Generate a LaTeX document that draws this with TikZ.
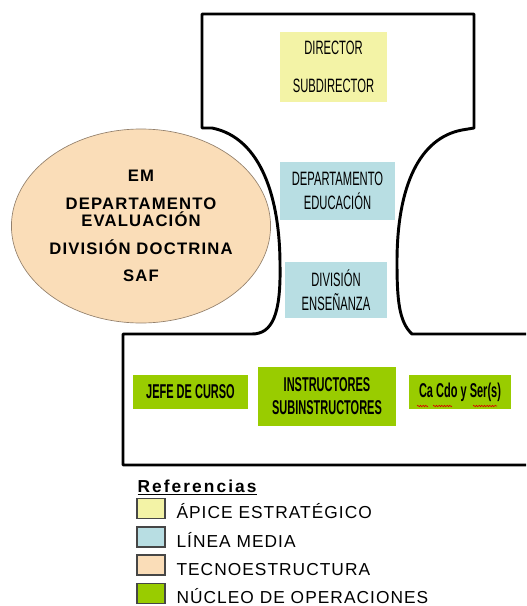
\documentclass[tikz,border=0pt]{standalone}
\usepackage{fontspec}
\setmainfont{Liberation Sans}
\newfontfamily\narrowfont[FakeStretch=0.58]{Liberation Sans}
\newfontfamily\opfont[FakeStretch=0.55]{Liberation Sans}
\newfontfamily\spacedfont[LetterSpace=7]{Liberation Sans}
\newfontfamily\legendfont[LetterSpace=6]{Liberation Sans}
\newfontfamily\titlefont[LetterSpace=12]{Liberation Sans}
\usetikzlibrary{shapes.geometric,decorations.pathmorphing}

\definecolor{apice}{RGB}{243,243,166}
\definecolor{linea}{RGB}{184,222,227}
\definecolor{tecno}{RGB}{250,221,184}
\definecolor{nucleo}{RGB}{153,204,0}
\definecolor{swline}{RGB}{70,70,70}

\tikzset{every picture/.style={line width=0.75pt}}
\tikzset{
	unitbox/.style={inner sep=0pt, align=center, font=\narrowfont\fontsize{14.5}{18}\selectfont},
	opbox/.style={unitbox, fill=nucleo, font=\opfont\bfseries\fontsize{15}{17.25}\selectfont},
	swatch/.style={draw=swline, line width=1pt, minimum width=21pt, minimum height=15pt, inner sep=0pt},
	legtext/.style={anchor=base west, inner sep=0pt, font=\legendfont\fontsize{13}{15}\selectfont},
	outline/.style={line width=2.2pt, line join=round},
	spellmark/.style={red!85!black, line width=0.5pt, decorate, decoration={snake, amplitude=0.5pt, segment length=2pt}}
}

\begin{document}
\begin{tikzpicture}[x=0.75pt,y=0.75pt,yscale=-1,xscale=1]
	\useasboundingbox (0,0) rectangle (526,606);

	%Shape: Outline top and bottom
	\draw [outline] (526,334) -- (412,334) .. controls (399,322) and (397,300) .. (397,262) .. controls (397,185) and (420,138) .. (462,130) -- (474,128) -- (474,14) -- (202,14) -- (202,128) -- (212,128) .. controls (262,138) and (280,200) .. (280,265) .. controls (281,315) and (272,334) .. (252,334) -- (123,334) -- (123,465) -- (526,465) ;

	%Shape: Ellipse
	\node [ellipse, draw=gray!70!brown, line width=0.5pt, fill=tecno, minimum width=189pt, minimum height=145.5pt, inner sep=0pt, align=center, font=\spacedfont\bfseries\fontsize{12.5}{12.75}\selectfont] (tecno) at (141,226) {EM\\[8.25pt]DEPARTAMENTO\\EVALUACIÓN\\[8.25pt]DIVISIÓN DOCTRINA\\[7.5pt]SAF};

	% Text Node
	\node [unitbox, fill=apice, minimum width=80.25pt, minimum height=52.5pt] (apice) at (333.5,67) {DIRECTOR\\[10.5pt]SUBDIRECTOR};
	% Text Node
	\node [unitbox, fill=linea, minimum width=86.25pt, minimum height=43.5pt] (lineaedu) at (337.5,191) {DEPARTAMENTO\\EDUCACIÓN};
	% Text Node
	\node [unitbox, fill=linea, minimum width=76.5pt, minimum height=42pt] (lineaens) at (336,290) {DIVISIÓN\\ENSEÑANZA};
	% Text Node
	\node [opbox, minimum width=86.25pt, minimum height=25.5pt] (jefe) at (190.5,392) {JEFE DE CURSO};
	% Text Node
	\node [opbox, minimum width=103.5pt, minimum height=44.25pt] (instr) at (327,396.5) {INSTRUCTORES\\SUBINSTRUCTORES};
	% Text Node
	\node [opbox, minimum width=76.5pt, minimum height=25.5pt] (cacdo) at (460,392) {Ca Cdo y Ser(s)};
	%spelling marks
	\draw [spellmark] (417,406) -- (428,406);
	\draw [spellmark] (433,406) -- (452,406);
	\draw [spellmark] (473,406) -- (497,406);

	% Legend
	\node [anchor=base west, inner sep=0pt, font=\titlefont\bfseries\fontsize{13}{15}\selectfont] (refs) at (137,492) {\underline{Referencias}};
	\node [swatch, fill=apice] (apsw) at (151,508.5) {};
	\node [swatch, fill=linea] (lmsw) at (151,537) {};
	\node [swatch, fill=tecno] (tesw) at (151,565) {};
	\node [swatch, fill=nucleo] (nosw) at (151,593.5) {};
	\node [legtext] (aptxt) at (176,518) {ÁPICE ESTRATÉGICO};
	\node [legtext] (lmtxt) at (176,547) {LÍNEA MEDIA};
	\node [legtext] (tetxt) at (176,575) {TECNOESTRUCTURA};
	\node [legtext] (notxt) at (176,603) {NÚCLEO DE OPERACIONES};

\end{tikzpicture}
\end{document}
